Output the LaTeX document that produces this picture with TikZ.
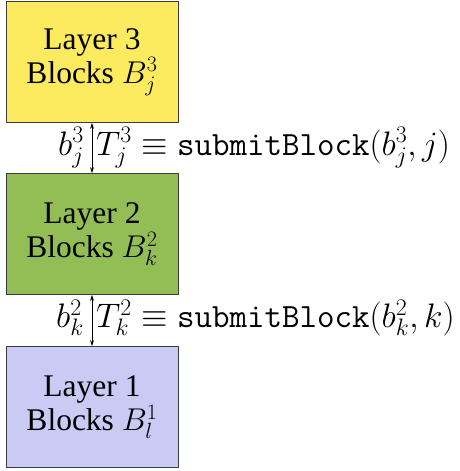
\RequirePackage{fix-cm}
\documentclass[tikz,border=0pt]{standalone}
\usepackage{fontspec}
\setmainfont{Liberation Serif}
\usetikzlibrary{arrows.meta}
\definecolor{layerthree}{RGB}{253,235,95}
\definecolor{layertwo}{RGB}{146,190,85}
\definecolor{layerone}{RGB}{201,203,245}
\definecolor{edgegray}{RGB}{60,60,60}
\tikzset{
  layerbox/.style={draw=edgegray, line width=0.9pt, minimum width=172pt, minimum height=121pt,
    align=center, inner sep=0pt, font=\fontsize{31.5}{34}\selectfont},
  link/.style={{Stealth[length=6pt,width=4pt]}-{Stealth[length=6pt,width=4pt]}, line width=0.8pt},
  linklabel/.style={font=\fontsize{34}{38}\selectfont, inner sep=0pt}
}
\begin{document}
\begin{tikzpicture}[x=1pt,y=-1pt]
\useasboundingbox[fill=white] (0,0) rectangle (460,471);
% the three stacked layers
\node[layerbox, fill=layerthree] (l3) at (92,62) {Layer 3\\Blocks $B^3_j$};
\node[layerbox, fill=layertwo] (l2) at (92,234) {Layer 2\\Blocks $B^2_k$};
\node[layerbox, fill=layerone] (l1) at (92,407) {Layer 1\\Blocks $B^1_l$};
% links between neighbouring layers
\draw[link] (l3.south) -- coordinate (m32) (l2.north);
\draw[link] (l2.south) -- coordinate (m21) (l1.north);
% labels on either side of each link
\node[linklabel, anchor=base east] (b3) at ([xshift=-8pt,yshift=-7pt]m32) {$b^3_j$};
\node[linklabel, anchor=base west] (t3) at ([xshift=4pt,yshift=-7pt]m32) {$T^3_j \equiv \texttt{submitBlock}(b^3_j,j)$};
\node[linklabel, anchor=base east] (b2) at ([xshift=-8pt,yshift=-7pt]m21) {$b^2_k$};
\node[linklabel, anchor=base west] (t2) at ([xshift=4pt,yshift=-7pt]m21) {$T^2_k \equiv \texttt{submitBlock}(b^2_k,k)$};
\end{tikzpicture}
\end{document}
